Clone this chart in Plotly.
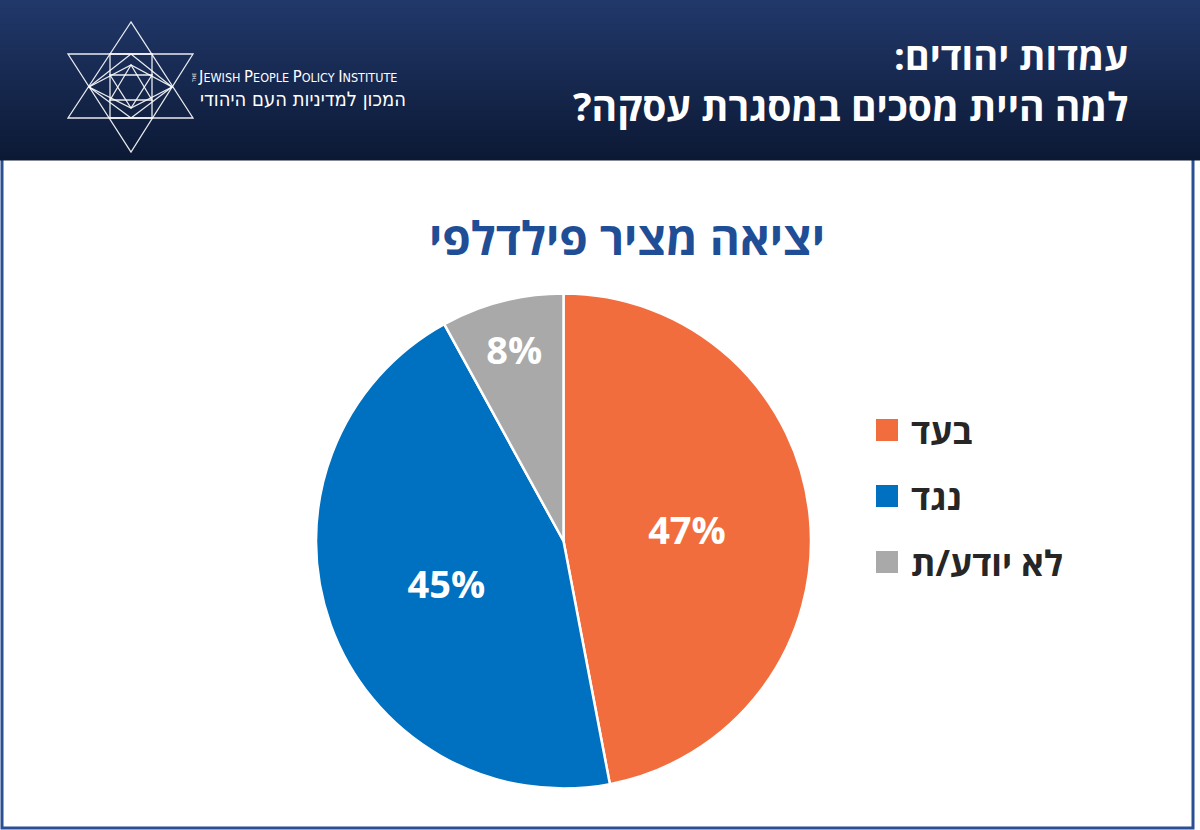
import plotly.graph_objects as go

# ---- data ----
labels = ["בעד", "נגד", "לא יודע/ת"]
values = [47, 45, 8]
colors = ["#F26D3D", "#0070C0", "#A9A9A9"]

header_line1 = "עמדות יהודים:"
header_line2 = "למה היית מסכים במסגרת עסקה?"
chart_title = "יציאה מציר פילדלפי"
org_en = "JEWISH PEOPLE POLICY INSTITUTE"
org_he = "המכון למדיניות העם היהודי"

W, H = 1200, 830
HEB = "Open Sans, Liberation Sans, DejaVu Sans, sans-serif"
RLM = "\u200f"


def px(x):
    return x / W


def py(y):
    return 1 - y / H


shapes = []
annotations = []

# white panel with blue frame
shapes.append(dict(type="rect", xref="paper", yref="paper",
                   x0=px(2), x1=px(1193), y0=py(828), y1=py(150),
                   line=dict(color="#2A4F94", width=3), fillcolor="white", layer="below"))

# header gradient bands
top = (0x21, 0x38, 0x6A)
bot = (0x0C, 0x19, 0x35)
n = 80
hh = 160
for i in range(n):
    t = i / (n - 1)
    c = tuple(round(top[k] + (bot[k] - top[k]) * t) for k in range(3))
    shapes.append(dict(type="rect", xref="paper", yref="paper",
                       x0=0, x1=1, y0=py(hh * (i + 1) / n + 0.5), y1=py(hh * i / n),
                       line=dict(width=0), fillcolor="rgb(%d,%d,%d)" % c, layer="below"))


def path(points, close=True):
    s = "M " + " L ".join("%f,%f" % (px(x), py(y)) for x, y in points)
    return s + (" Z" if close else "")


logo_polys = [
    [(131, 22), (68, 118), (193, 118)],
    [(68, 54), (193, 54), (131, 152)],
    [(110, 54), (152, 54), (152, 118), (110, 118)],
    [(89, 87), (131, 65), (172, 87), (131, 108)],
    [(131, 65), (110, 100), (152, 100)],
    [(110, 75), (152, 75), (131, 108)],
    [(89, 87), (131, 54), (172, 87), (131, 118)],
]
for p in logo_polys:
    shapes.append(dict(type="path", xref="paper", yref="paper", path=path(p),
                       line=dict(color="rgba(255,255,255,0.9)", width=1.3)))

# logo text
NARROW = "Liberation Sans Narrow, DejaVu Sans Condensed, Liberation Sans"
annotations.append(dict(xref="paper", yref="paper", x=px(189), y=py(78), xanchor="left", yanchor="middle",
                        showarrow=False, text="THE",
                        font=dict(family=NARROW, size=5, color="white"), textangle=-90))
en_words = org_en.split(" ")
en_text = " ".join("<span style='font-size:16.5px'>%s</span>%s" % (w[0], w[1:]) for w in en_words)
annotations.append(dict(xref="paper", yref="paper", x=px(196), y=py(77), xanchor="left", yanchor="middle",
                        showarrow=False, text=en_text,
                        font=dict(family=NARROW, size=12.5, color="white")))
annotations.append(dict(xref="paper", yref="paper", x=px(408), y=py(99), xanchor="right", yanchor="middle",
                        showarrow=False, text=org_he,
                        font=dict(family=NARROW, size=20, color="white")))

# header titles
annotations.append(dict(xref="paper", yref="paper", x=px(1130), y=py(55), xanchor="right", yanchor="middle",
                        showarrow=False, text="<b>%s%s</b>" % (header_line1, RLM),
                        font=dict(family=HEB, size=38, color="white")))
annotations.append(dict(xref="paper", yref="paper", x=px(1130), y=py(106), xanchor="right", yanchor="middle",
                        showarrow=False, text="<b>%s%s</b>" % (header_line2, RLM),
                        font=dict(family=HEB, size=39, color="white")))

# chart title
annotations.append(dict(xref="paper", yref="paper", x=px(627), y=py(237), xanchor="center", yanchor="middle",
                        showarrow=False, text="<b>%s</b>" % chart_title,
                        font=dict(family=HEB, size=46, color="#1F4E96")))

# legend (manual, from data arrays)
leg_y0, leg_dy = 430, 66
for i, (lab, col) in enumerate(zip(labels, colors)):
    yc = leg_y0 + i * leg_dy
    shapes.append(dict(type="rect", xref="paper", yref="paper",
                       x0=px(876), x1=px(898), y0=py(yc + 11), y1=py(yc - 11),
                       line=dict(width=0), fillcolor=col))
    annotations.append(dict(xref="paper", yref="paper", x=px(909), y=py(yc), xanchor="left", yanchor="middle",
                            showarrow=False, text="<b>%s</b>" % lab,
                            font=dict(family=HEB, size=35, color="#262626")))

fig = go.Figure(go.Pie(
    labels=labels, values=values, sort=False, direction="clockwise", rotation=0,
    marker=dict(colors=colors, line=dict(color="white", width=2.5)),
    texttemplate="<b>%{percent:.0%}</b>", textposition="inside", insidetextorientation="horizontal",
    textfont=dict(family=HEB, size=38, color="white"),
    domain=dict(x=[px(316), px(811)], y=[py(788.5), py(293.5)]),
    showlegend=False, hoverinfo="label+percent",
))

fig.update_layout(width=W, height=H, margin=dict(l=0, r=0, t=0, b=0),
                  paper_bgcolor="white", plot_bgcolor="white",
                  shapes=shapes, annotations=annotations,
                  uniformtext=dict(minsize=38, mode="show"))

fig.write_html("out.html", config={"displayModeBar": False},
               post_script="document.body.style.margin='0';document.body.style.overflow='hidden';")
